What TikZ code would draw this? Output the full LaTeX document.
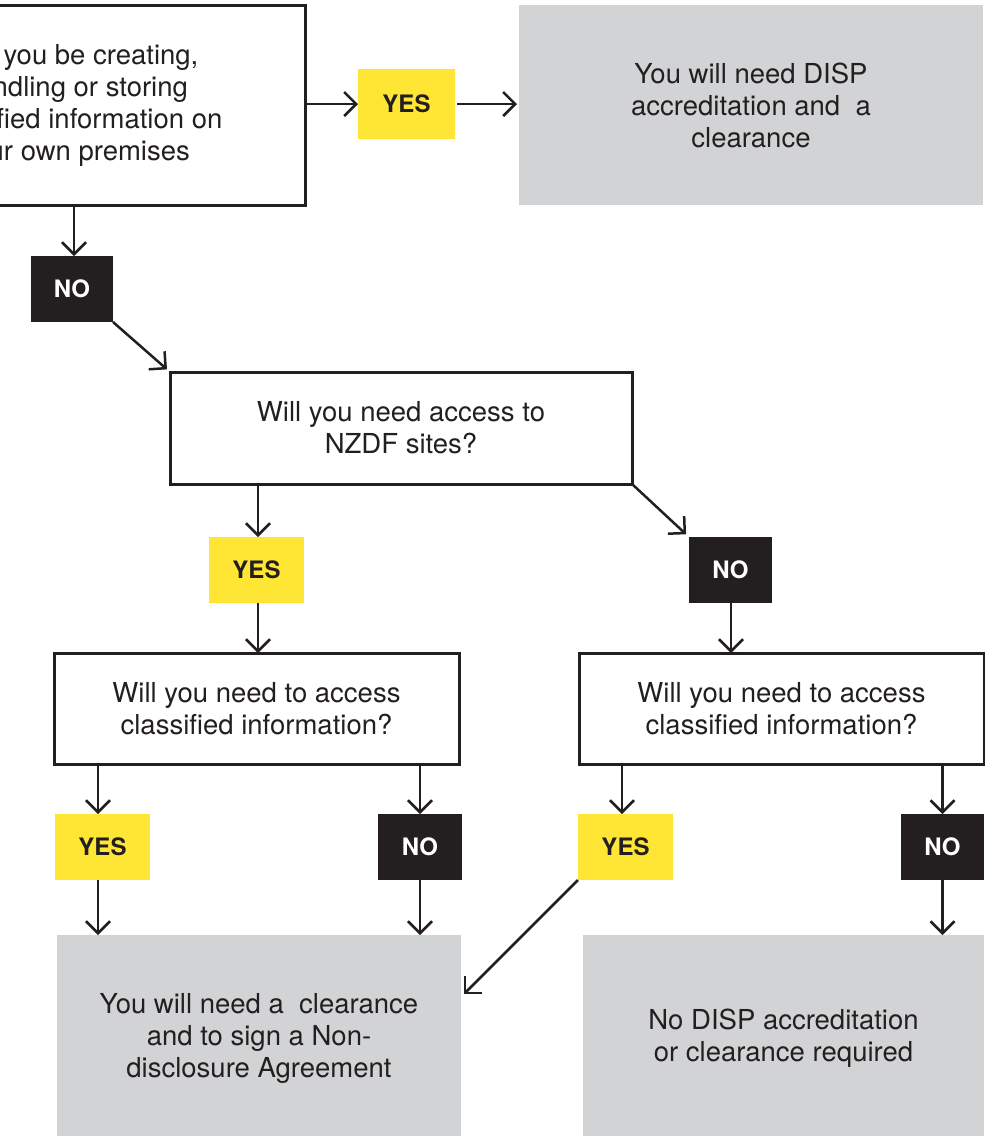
\documentclass[tikz,border=0pt]{standalone}
\usepackage{fontspec}
\setmainfont{TeX Gyre Heros}
\usetikzlibrary{arrows.meta}
\definecolor{ink}{HTML}{231F20}
\definecolor{yel}{HTML}{FFE534}
\definecolor{gry}{HTML}{D1D3D4}
\tikzset{
  body/.style={font=\fontsize{27.5}{32}\selectfont, text=ink, align=center, inner sep=0pt, outer sep=0pt},
  qbox/.style={body, draw=ink, line width=3pt, fill=white},
  rbox/.style={body, fill=gry},
  tag/.style={font=\fontsize{24}{28}\selectfont\bfseries, inner sep=0pt, outer sep=0pt, minimum height=66pt},
  yesbox/.style={tag, fill=yel, text=ink},
  nobox/.style={tag, fill=ink, text=white},
  arr/.style={draw=ink, line width=2.5pt, -{Straight Barb[length=12pt,width=24pt]}}
}
\begin{document}
\begin{tikzpicture}[x=1pt,y=-1pt]
\useasboundingbox (0,0) rectangle (985,1136);
\begin{scope}
\clip (0,0) rectangle (985,1136);
% row 1
\node[qbox, minimum width=460pt, minimum height=200pt] (q1) at (75,105)
  {Will you be creating,\\handling or storing\\classified information on\\your own premises};
\node[yesbox, minimum width=97pt, minimum height=70pt] (yes1) at (406.5,104) {YES};
\node[rbox, minimum width=464pt, minimum height=200pt] (r1) at (751,105)
  {You will need DISP\\accreditation and\ \ a\\clearance};
\node[nobox, minimum width=82pt] (no1) at (72,289) {NO};
% row 2
\node[qbox, minimum width=462pt, minimum height=112pt] (q2) at (401,428)
  {Will you need access to\\NZDF sites?};
\node[yesbox, minimum width=95pt] (yes2) at (256.5,570) {YES};
\node[nobox, minimum width=83pt] (no2) at (730.5,570) {NO};
% row 3
\node[qbox, minimum width=405pt, minimum height=111pt] (q3) at (256.5,708.5)
  {Will you need to access\\classified information?};
\node[qbox, minimum width=405pt, minimum height=111pt] (q4) at (781.5,708.5)
  {Will you need to access\\classified information?};
\node[yesbox, minimum width=95pt] (yes3) at (102.5,847) {YES};
\node[nobox, minimum width=84pt] (no3) at (420,847) {NO};
\node[yesbox, minimum width=95pt] (yes4) at (625.5,847) {YES};
\node[nobox, minimum width=83pt] (no4) at (942.5,847) {NO};
% results
\node[rbox, minimum width=404pt, minimum height=206pt] (r2) at (259,1038)
  {You will need a\ \ clearance\\and to sign a Non-\\disclosure Agreement};
\node[rbox, minimum width=401pt, minimum height=206pt] (r3) at (783.5,1038)
  {No DISP accreditation\\or clearance required};
% connectors
\draw[arr] (q1.east |- yes1.west) -- (yes1.west);
\draw[arr] ([xshift=2pt]yes1.east) -- ([xshift=-2pt]r1.west |- yes1.east);
\draw[arr] ([xshift=2pt]no1.north |- q1.south) -- ([xshift=2pt]no1.north);
\draw[arr, shorten >=4pt] (no1.south east) -- (q2.north west);
\draw[arr] ([xshift=1.5pt]yes2.north |- q2.south) -- ([xshift=1.5pt]yes2.north);
\draw[arr, shorten >=4pt] (q2.south east) -- (no2.north west);
\draw[arr] ([xshift=0.5pt]no2.south) -- ([xshift=0.5pt]no2.south |- q4.north);
\draw[arr] ([xshift=1.5pt]yes2.south) -- ([xshift=1.5pt]yes2.south |- q3.north);
\draw[arr] ([xshift=-4.5pt]yes3.north |- q3.south) -- ([xshift=-4.5pt]yes3.north);
\draw[arr] (no3.north |- q3.south) -- (no3.north);
\draw[arr] ([xshift=-3.5pt]yes4.north |- q4.south) -- ([xshift=-3.5pt]yes4.north);
\draw[arr] (no4.north |- q4.south) -- (no4.north);
\draw[arr] ([xshift=-4.5pt]yes3.south) -- ([xshift=-4.5pt]yes3.south |- r2.north);
\draw[arr] (no3.south) -- (no3.south |- r2.north);
\draw[arr] (no4.south) -- (no4.south |- r3.north);
\draw[arr, shorten >=4pt] (yes4.south west) -- (r2.east |- 0,997);
\end{scope}
\end{tikzpicture}
\end{document}
